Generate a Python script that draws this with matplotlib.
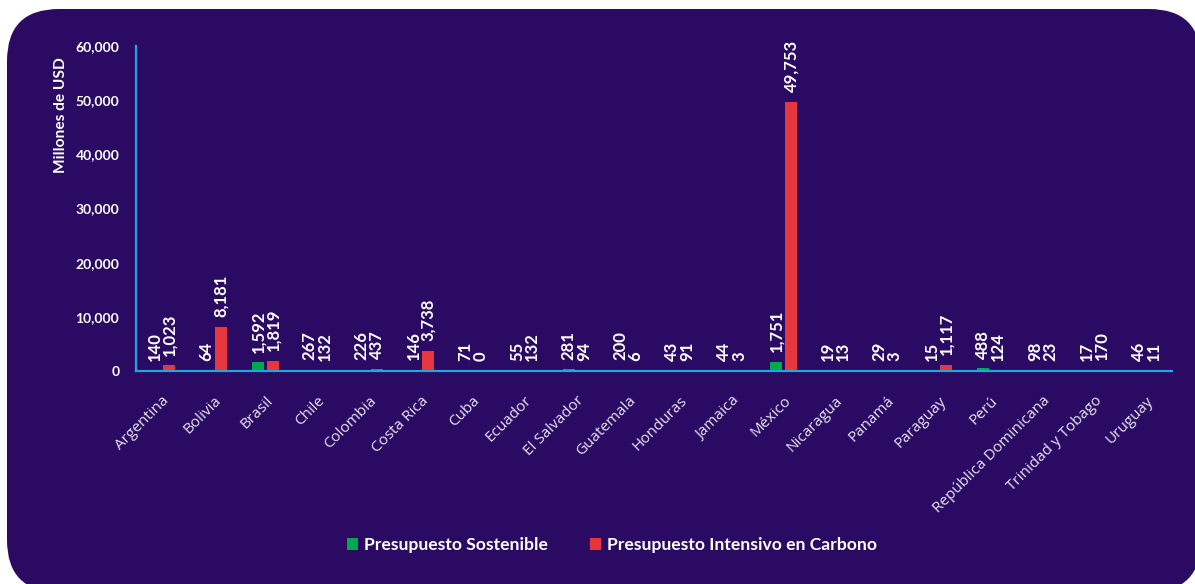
import numpy as np
import matplotlib
matplotlib.use("Agg")
import matplotlib.pyplot as plt
from matplotlib.patches import FancyBboxPatch, Patch
from matplotlib.transforms import IdentityTransform
from matplotlib.ticker import FuncFormatter

paises = ["Argentina", "Bolivia", "Brasil", "Chile", "Colombia", "Costa Rica",
          "Cuba", "Ecuador", "El Salvador", "Guatemala", "Honduras", "Jamaica",
          "México", "Nicaragua", "Panamá", "Paraguay", "Perú",
          "República Dominicana", "Trinidad y Tobago", "Uruguay"]
sostenible = [140, 64, 1592, 267, 226, 146, 71, 55, 281, 200, 43, 44,
              1751, 19, 29, 15, 488, 98, 17, 46]
intensivo = [1023, 8181, 1819, 132, 437, 3738, 0, 132, 94, 6, 91, 3,
             49753, 13, 3, 1117, 124, 23, 170, 11]
y_ticks = [0, 10000, 20000, 30000, 40000, 50000, 60000]
serie_labels = ["Presupuesto Sostenible", "Presupuesto Intensivo en Carbono"]

BG = "#2a0a62"
GREEN = "#00a84f"
RED = "#e8363f"
AXIS = "#1fa7e0"
WHITE = "#ffffff"
TICK = "#e6e3f2"

W, H = 1195, 584
fig = plt.figure(figsize=(W / 100, H / 100), dpi=100, facecolor="white")

# rounded dark panel behind the chart (pixel coordinates)
panel = FancyBboxPatch((7, -8), 1194, H - 9 + 8,
                       boxstyle="round,pad=0,rounding_size=52",
                       transform=IdentityTransform(), facecolor=BG,
                       edgecolor="none", zorder=0)
fig.add_artist(panel)

ax = fig.add_axes([136 / W, 1 - 371 / H, (1172 - 136) / W, (371 - 46) / H])
ax.patch.set_visible(False)

x = np.arange(len(paises))
bw = 0.23
off = 0.145
ax.bar(x - off, sostenible, width=bw, color=GREEN, zorder=2)
ax.bar(x + off, intensivo, width=bw, color=RED, zorder=2)

lbl_font = dict(family="Lato", weight="bold", size=12, color=WHITE)
for xi, v in zip(x - off, sostenible):
    ax.annotate(f"{v:,}", (xi, v), xytext=(0, 7), textcoords="offset points",
                rotation=90, ha="center", va="bottom", **lbl_font)
for xi, v in zip(x + off, intensivo):
    ax.annotate(f"{v:,}", (xi, v), xytext=(0, 7), textcoords="offset points",
                rotation=90, ha="center", va="bottom", **lbl_font)

ax.set_xlim(-0.5, len(paises) - 0.5)
ax.set_ylim(0, 60000)
ax.set_yticks(y_ticks)
ax.yaxis.set_major_formatter(FuncFormatter(lambda v, p: f"{int(v):,}"))
ax.set_xticks(x)
ax.set_xticklabels(paises, rotation=45, ha="right", rotation_mode="anchor",
                   family="Open Sans", size=11, color=TICK)
for t in ax.get_yticklabels():
    t.set_family("Lato")
    t.set_weight("bold")
    t.set_size(10)
    t.set_color(WHITE)
ax.tick_params(axis="y", length=0, pad=12)
ax.tick_params(axis="x", length=0, pad=16)

for s in ["top", "right"]:
    ax.spines[s].set_visible(False)
for s in ["left", "bottom"]:
    ax.spines[s].set_color(AXIS)
    ax.spines[s].set_linewidth(1.6)
    ax.spines[s].set_zorder(3)

fig.text(61 / W, 1 - 57 / H, "Millones de USD", rotation=90, ha="center",
         va="top", family="Lato", weight="bold", size=11.2, color=WHITE)

handles = [Patch(facecolor=GREEN), Patch(facecolor=RED)]
fig.legend(handles, serie_labels, loc="center",
           bbox_to_anchor=(612 / W, 1 - 545 / H), ncol=2, frameon=False,
           handlelength=0.65, handleheight=0.65, handletextpad=0.35,
           columnspacing=2.4, labelcolor=WHITE,
           prop=dict(family="Lato", weight="bold", size=12.6))

fig.savefig("out.png", dpi=100, facecolor="white")
